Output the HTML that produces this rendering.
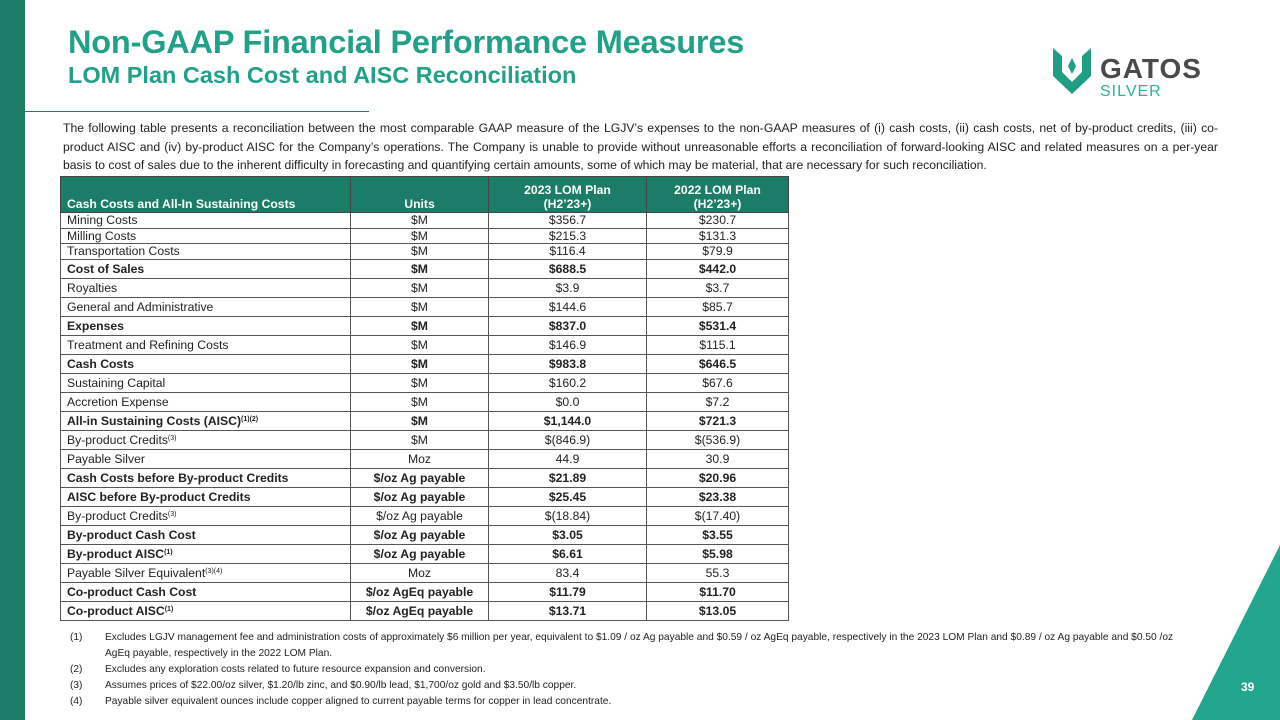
<!DOCTYPE html>
<html><head><meta charset="utf-8"><style>
body{margin:0;width:1280px;height:720px;position:relative;overflow:hidden;background:#fff;font-family:"Liberation Sans",sans-serif;color:#222}
.abs{position:absolute}
#bar{left:0;top:0;width:25px;height:720px;background:#1b7d67}
h1{position:absolute;left:68px;top:24px;margin:0;font-size:32.5px;color:#21a08a;font-weight:bold;letter-spacing:-0.2px;white-space:nowrap}
h2{position:absolute;left:68px;top:62px;margin:0;font-size:23.5px;color:#21a08a;font-weight:bold;white-space:nowrap}
#rule{left:25px;top:111px;width:344px;height:1px;background:#1b7d67}
#intro{left:63px;top:119px;width:1155px;font-size:12.2px;line-height:18.7px;text-align:justify;text-align-last:left}
table{position:absolute;left:60px;top:176px;width:728px;border-collapse:collapse;font-size:12.2px;table-layout:fixed}
th{background:#1b7d67;color:#fff;font-weight:bold;height:34px;vertical-align:bottom;padding:0 0 1px;border:1px solid #444;line-height:14px}
td{border:1px solid #555;padding:0 6px;height:18px;text-align:center;line-height:14px;white-space:nowrap}
tr.s td{height:14.5px}
td:first-child{text-align:left;padding-left:6px}
tr.b td{font-weight:bold}
sup{font-size:7px;vertical-align:4px;line-height:0}
#notes{left:70px;top:630px;font-size:10.2px;line-height:16px;width:1110px}
.n{display:flex}.n span:first-child{width:35px;flex:none}
#tri{right:0;bottom:0}
#pg{left:1241px;top:680px;color:#fff;font-weight:bold;font-size:12px}
</style></head><body>
<div class="abs" id="bar"></div>
<h1>Non-GAAP Financial Performance Measures</h1>
<h2>LOM Plan Cash Cost and AISC Reconciliation</h2>
<div class="abs" id="rule"></div>
<svg class="abs" style="left:1050px;top:44px" width="175" height="55">
<path d="M3 4 L3 32 L22 50 L41 32 L41 4 L32 12 L32 28 L22 38 L12 28 L12 12 Z" fill="#1f9e84"/>
<path d="M18 22 L22 14 L26 22 L22 30 Z" fill="#1f9e84"/>
<text x="50" y="34" font-family="Liberation Sans" font-weight="bold" font-size="28" fill="#4a4a4a" letter-spacing="1">GATOS</text>
<text x="50" y="52" font-family="Liberation Sans" font-size="16" fill="#2bb39a" letter-spacing="1">SILVER</text>
</svg>
<div class="abs" id="intro">The following table presents a reconciliation between the most comparable GAAP measure of the LGJV’s expenses to the non-GAAP measures of (i) cash costs, (ii) cash costs, net of by-product credits, (iii) co-product AISC and (iv) by-product AISC for the Company’s operations. The Company is unable to provide without unreasonable efforts a reconciliation of forward-looking AISC and related measures on a per-year basis to cost of sales due to the inherent difficulty in forecasting and quantifying certain amounts, some of which may be material, that are necessary for such reconciliation.</div>
<table>
<colgroup><col style="width:290px"><col style="width:138px"><col style="width:158px"><col style="width:142px"></colgroup>
<tr><th style="text-align:left;padding-left:6px">Cash Costs and All-In Sustaining Costs</th><th>Units</th><th>2023 LOM Plan<br>(H2’23+)</th><th>2022 LOM Plan<br>(H2’23+)</th></tr>
<tr class="s"><td>Mining Costs</td><td>$M</td><td>$356.7</td><td>$230.7</td></tr>
<tr class="s"><td>Milling Costs</td><td>$M</td><td>$215.3</td><td>$131.3</td></tr>
<tr class="s"><td>Transportation Costs</td><td>$M</td><td>$116.4</td><td>$79.9</td></tr>
<tr class="b"><td>Cost of Sales</td><td>$M</td><td>$688.5</td><td>$442.0</td></tr>
<tr><td>Royalties</td><td>$M</td><td>$3.9</td><td>$3.7</td></tr>
<tr><td>General and Administrative</td><td>$M</td><td>$144.6</td><td>$85.7</td></tr>
<tr class="b"><td>Expenses</td><td>$M</td><td>$837.0</td><td>$531.4</td></tr>
<tr><td>Treatment and Refining Costs</td><td>$M</td><td>$146.9</td><td>$115.1</td></tr>
<tr class="b"><td>Cash Costs</td><td>$M</td><td>$983.8</td><td>$646.5</td></tr>
<tr><td>Sustaining Capital</td><td>$M</td><td>$160.2</td><td>$67.6</td></tr>
<tr><td>Accretion Expense</td><td>$M</td><td>$0.0</td><td>$7.2</td></tr>
<tr class="b"><td>All-in Sustaining Costs (AISC)<sup>(1)(2)</sup></td><td>$M</td><td>$1,144.0</td><td>$721.3</td></tr>
<tr><td>By-product Credits<sup>(3)</sup></td><td>$M</td><td>$(846.9)</td><td>$(536.9)</td></tr>
<tr><td>Payable Silver</td><td>Moz</td><td>44.9</td><td>30.9</td></tr>
<tr class="b"><td>Cash Costs before By-product Credits</td><td>$/oz Ag payable</td><td>$21.89</td><td>$20.96</td></tr>
<tr class="b"><td>AISC before By-product Credits</td><td>$/oz Ag payable</td><td>$25.45</td><td>$23.38</td></tr>
<tr><td>By-product Credits<sup>(3)</sup></td><td>$/oz Ag payable</td><td>$(18.84)</td><td>$(17.40)</td></tr>
<tr class="b"><td>By-product Cash Cost</td><td>$/oz Ag payable</td><td>$3.05</td><td>$3.55</td></tr>
<tr class="b"><td>By-product AISC<sup>(1)</sup></td><td>$/oz Ag payable</td><td>$6.61</td><td>$5.98</td></tr>
<tr><td>Payable Silver Equivalent<sup>(3)(4)</sup></td><td>Moz</td><td>83.4</td><td>55.3</td></tr>
<tr class="b"><td>Co-product Cash Cost</td><td>$/oz AgEq payable</td><td>$11.79</td><td>$11.70</td></tr>
<tr class="b"><td>Co-product AISC<sup>(1)</sup></td><td>$/oz AgEq payable</td><td>$13.71</td><td>$13.05</td></tr>
</table>
<div class="abs" id="notes">
<div class="n"><span>(1)</span><span>Excludes LGJV management fee and administration costs of approximately $6 million per year, equivalent to $1.09 / oz Ag payable and $0.59 / oz AgEq payable, respectively in the 2023 LOM Plan and $0.89 / oz Ag payable and $0.50 /oz AgEq payable, respectively in the 2022 LOM Plan.</span></div>
<div class="n"><span>(2)</span><span>Excludes any exploration costs related to future resource expansion and conversion.</span></div>
<div class="n"><span>(3)</span><span>Assumes prices of $22.00/oz silver, $1.20/lb zinc, and $0.90/lb lead, $1,700/oz gold and $3.50/lb copper.</span></div>
<div class="n"><span>(4)</span><span>Payable silver equivalent ounces include copper aligned to current payable terms for copper in lead concentrate.</span></div>
</div>
<svg class="abs" id="tri" width="90" height="175"><polygon points="90,0 90,175 2,175" fill="#22a68c"/></svg>
<div class="abs" id="pg">39</div>
</body></html>
